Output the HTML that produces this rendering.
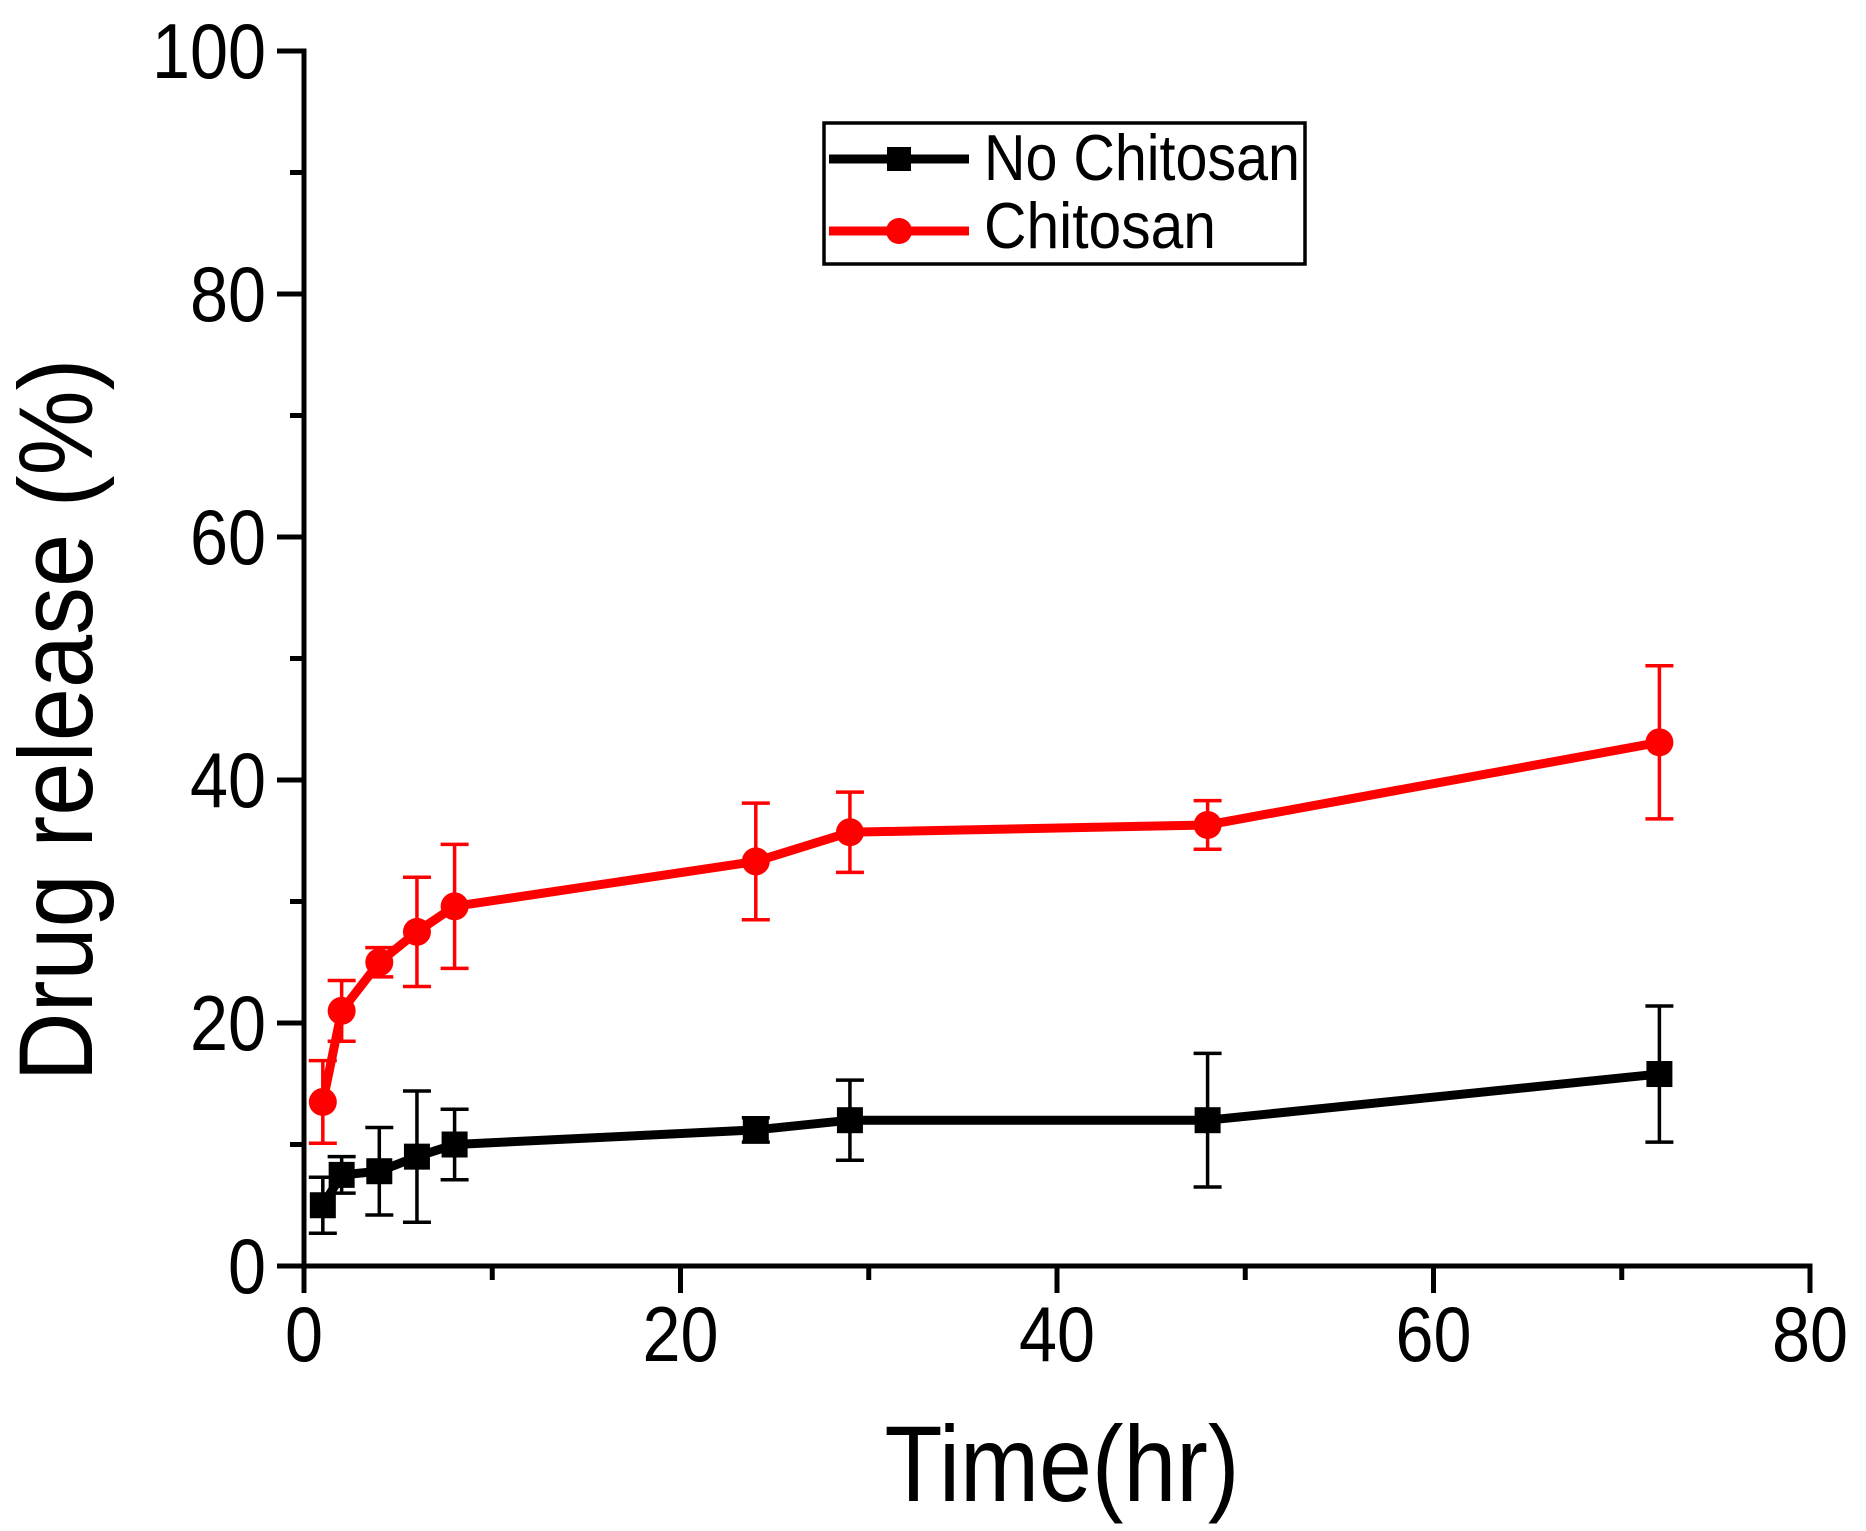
<!DOCTYPE html>
<html><head><meta charset="utf-8"><style>html,body{margin:0;padding:0;background:#fff}svg{display:block}text{font-family:"Liberation Sans",Arial,sans-serif;fill:#000}</style></head>
<body>
<svg id="chart" width="1866" height="1531" viewBox="0 0 1866 1531" xmlns="http://www.w3.org/2000/svg">
<g id="axes"></g>
<g id="series"></g>
<g>
  <rect x="824" y="123" width="481" height="141" fill="#fff" stroke="#000" stroke-width="3.5"/>
  <g>
    <line x1="829" y1="159" x2="969" y2="159" stroke="#000" stroke-width="9"/>
    <rect x="887" y="147" width="24" height="24" fill="#000"/>
    <text x="984" y="180" font-size="65" textLength="316" lengthAdjust="spacingAndGlyphs">No Chitosan</text>
  </g>
  <g>
    <line x1="829" y1="231" x2="969" y2="231" stroke="#f00" stroke-width="9"/>
    <circle cx="899" cy="231" r="13" fill="#f00"/>
    <text x="984" y="248" font-size="65" textLength="232" lengthAdjust="spacingAndGlyphs">Chitosan</text>
  </g>
</g>
<text x="1062" y="1501" font-size="108" text-anchor="middle" textLength="355" lengthAdjust="spacingAndGlyphs">Time(hr)</text>
<text transform="translate(92,720) rotate(-90)" font-size="105" text-anchor="middle" textLength="723" lengthAdjust="spacingAndGlyphs">Drug release (%)</text>
</svg>
<script>
const times = [1, 2, 4, 6, 8, 24, 29, 48, 72];
const noChitosan = [5, 7.5, 7.8, 9, 10, 11.2, 12, 12, 15.8];
const noChitosanErr = [2.3, 1.5, 3.6, 5.4, 2.9, 1, 3.3, 5.5, 5.6];
const chitosan = [13.5, 21, 25, 27.5, 29.6, 33.3, 35.7, 36.3, 43.1];
const chitosanErr = [3.4, 2.5, 1.2, 4.5, 5.1, 4.8, 3.3, 2, 6.3];
const xTicks = [0, 20, 40, 60, 80];
const yTicks = [0, 20, 40, 60, 80, 100];

const X0 = 304, X1 = 1810, Y0 = 1266, Y1 = 51;
const xs = v => X0 + (v - 0) / 80 * (X1 - X0);
const ys = v => Y0 - (v - 0) / 100 * (Y0 - Y1);
const NS = 'http://www.w3.org/2000/svg';
function mk(tag, attrs, parent) {
  const e = document.createElementNS(NS, tag);
  for (const k in attrs) e.setAttribute(k, attrs[k]);
  parent.appendChild(e);
  return e;
}
const axes = document.getElementById('axes');
const series = document.getElementById('series');

const yAxis = mk('line', {x1: X0, y1: Y1 - 2.5, x2: X0, y2: Y0 + 2.5, stroke: '#000', 'stroke-width': 5}, axes);


const xAxis = mk('line', {x1: X0 - 2.5, y1: Y0, x2: X1 + 2.5, y2: Y0, stroke: '#000', 'stroke-width': 5}, axes);



for (let v = 0; v <= 100; v += 10) {
  const major = v % 20 === 0;
  const t = mk('line', {x1: X0 - (major ? 27 : 14), y1: ys(v), x2: X0, y2: ys(v), stroke: '#000', 'stroke-width': 5}, axes);
  
  
}
yTicks.forEach(v => {
  const lab = mk('text', {x: 266, y: ys(v) + 27, 'font-size': 78, 'text-anchor': 'end', textLength: String(v).length * 38, lengthAdjust: 'spacingAndGlyphs'}, axes);
  lab.textContent = v;
  
  
});
for (let v = 0; v <= 80; v += 10) {
  const major = v % 20 === 0;
  const t = mk('line', {x1: xs(v), y1: Y0, x2: xs(v), y2: Y0 + (major ? 27 : 14), stroke: '#000', 'stroke-width': 5}, axes);
  
  
}
xTicks.forEach(v => {
  const w = String(v).length * 38;
  const lab = mk('text', {x: xs(v), y: 1361, 'font-size': 78, 'text-anchor': 'middle', textLength: w, lengthAdjust: 'spacingAndGlyphs'}, axes);
  lab.textContent = v;
  
  
});

function drawSeries(vals, errs, color, marker, name) {
  const g = mk('g', {}, series);
  
  
  times.forEach((t, i) => {
    const x = xs(t), top = ys(vals[i] + errs[i]), bot = ys(vals[i] - errs[i]);
    const eb = mk('path', {d: `M${x},${top}V${bot}M${x - 14},${top}H${x + 14}M${x - 14},${bot}H${x + 14}`, stroke: color, 'stroke-width': 3.5, fill: 'none'}, g);
    
    
  });
  const pts = times.map((t, i) => xs(t) + ',' + ys(vals[i])).join(' ');
  const line = mk('polyline', {points: pts, stroke: color, 'stroke-width': 9, fill: 'none', 'stroke-linejoin': 'round'}, g);
  
  
  times.forEach((t, i) => {
    const x = xs(t), y = ys(vals[i]);
    let m;
    if (marker === 'square') m = mk('rect', {x: x - 13, y: y - 13, width: 26, height: 26, fill: color}, g);
    else m = mk('circle', {cx: x, cy: y, r: 14, fill: color}, g);
    
    
  });
}
drawSeries(noChitosan, noChitosanErr, '#000', 'square', 'no-chitosan');
drawSeries(chitosan, chitosanErr, '#f00', 'circle', 'chitosan');
</script>
</body></html>
